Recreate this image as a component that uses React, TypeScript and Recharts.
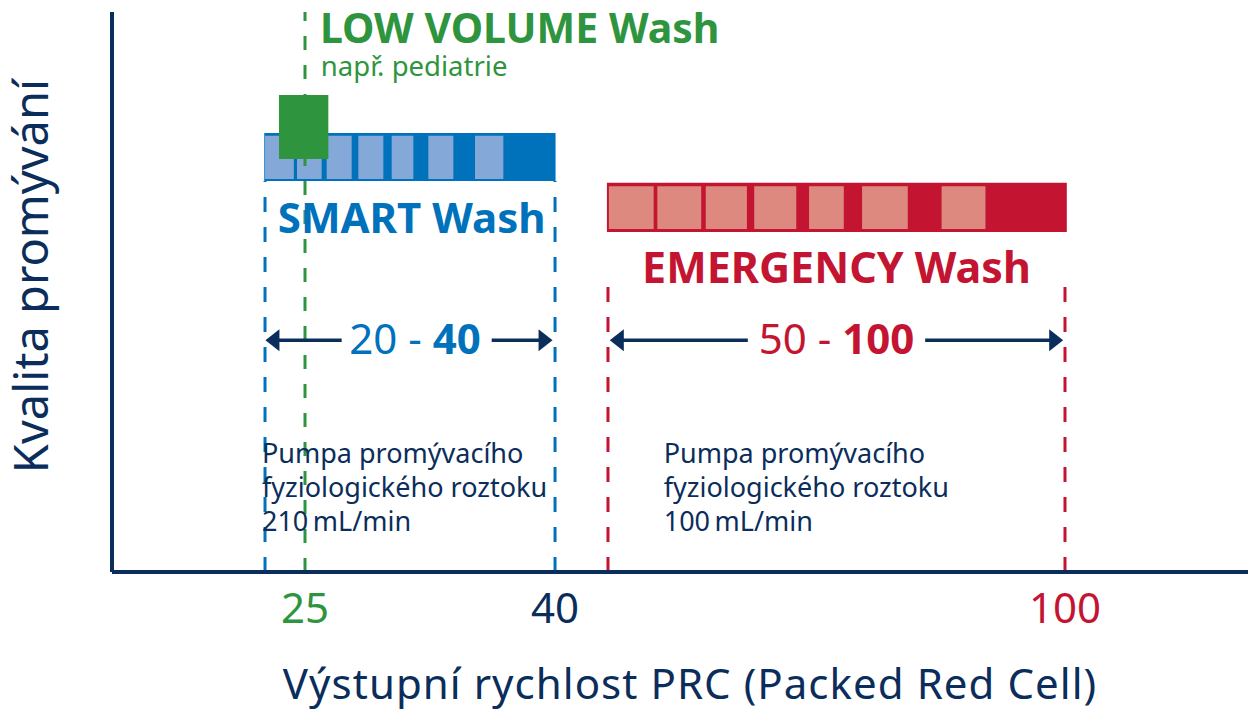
import React from 'react';
import { ComposedChart, XAxis, YAxis, ReferenceArea, ReferenceLine, ReferenceDot } from 'recharts';

// ---------- data ----------
// x axis: output rate of PRC (schematic, non-linear axis)
const xTicks = [25, 40, 100];
const axisBreaks = [0, 20, 25, 40, 50, 100, 120];
const axisBreakShare = [0, 0.1347, 0.1699, 0.39, 0.4366, 0.8389, 1];

// y axis: wash quality (schematic 0..100)
const qualityDomain = [0, 100];

// SMART Wash bar (20 - 40)
const smartRange = [19.9, 40.1];
const smartQuality = [69.8, 78.4];
const smartCells = [
  [20.0, 23.6], [24.0, 26.0], [26.3, 27.8], [28.2, 29.7], [30.2, 31.5], [32.4, 33.9], [35.2, 36.9],
];
const smartCellQuality = [70.2, 77.9];
const smartGuides = [20, 40];

// EMERGENCY Wash bar (50 - 100)
const emergencyRange = [49.8, 100.2];
const emergencyQuality = [60.7, 69.5];
const emergencyCells = [
  [50.1, 55.0], [55.4, 60.2], [60.7, 65.2], [66.0, 70.6], [72.0, 75.8], [77.8, 82.8], [86.5, 91.3],
];
const emergencyCellQuality = [61.25, 68.9];
const emergencyGuides = [50, 100];
const emergencyGuideTop = 51.25;

// LOW VOLUME Wash (25)
const lowVolumeRange = [21.75, 26.4];
const lowVolumeQuality = [73.75, 85.2];
const lowVolumeGuide = 25;

// range arrows
const arrowQuality = 41.4;
const smartArrows = [[27.2, 20.05], [36.2, 39.85]];
const emergencyArrows = [[65.3, 50.2], [84.7, 99.8]];

// texts
const lowVolumeTitle = 'LOW VOLUME Wash';
const lowVolumeSub = 'např. pediatrie';
const smartTitle = 'SMART Wash';
const emergencyTitle = 'EMERGENCY Wash';
const smartRangeText = ['20', '40'];
const emergencyRangeText = ['50', '100'];
const smartPumpText = ['Pumpa promývacího', 'fyziologického roztoku', '210\u2009mL/min'];
const emergencyPumpText = ['Pumpa promývacího', 'fyziologického roztoku', '100\u2009mL/min'];
const xTitle = 'Výstupní rychlost PRC (Packed Red Cell)';
const yTitle = 'Kvalita promývání';

// annotation anchors (data units)
const lowVolumeTitleAt = { x: 25.9, y: 94.4 };
const lowVolumeSubAt = { x: 25.95, y: 88.5 };
const smartTitleAt = { x: 31.4, y: 60.5 };
const emergencyTitleAt = { x: 75.0, y: 51.6 };
const smartRangeAt = { x: 31.6, y: 38.9 };
const emergencyRangeAt = { x: 75.0, y: 38.9 };
const smartPumpAt = { x: 19.6, y: 19.5 };
const emergencyPumpAt = { x: 56.1, y: 19.5 };

// ---------- styles ----------
const FONT = '"Noto Sans", Roboto, sans-serif';
const NAVY = '#0B2D5B';
const GREEN = '#2F943E';
const BLUE = '#0071BB';
const BLUE_LIGHT = '#84A8D7';
const RED = '#C31432';
const RED_LIGHT = '#DD897F';
const tickColor: Record<number, string> = { 25: GREEN, 40: NAVY, 100: RED };

// piecewise-linear scale (d3-like interface) for the schematic x axis
function makeScale(breaks: number[], shares: number[]): any {
  let dom = [breaks[0], breaks[breaks.length - 1]];
  let rng = [0, 1];
  const share = (v: number) => {
    let i = 0;
    while (i < breaks.length - 2 && v > breaks[i + 1]) i++;
    const t = (v - breaks[i]) / (breaks[i + 1] - breaks[i]);
    return shares[i] + t * (shares[i + 1] - shares[i]);
  };
  const unshare = (s: number) => {
    let i = 0;
    while (i < shares.length - 2 && s > shares[i + 1]) i++;
    const t = (s - shares[i]) / (shares[i + 1] - shares[i]);
    return breaks[i] + t * (breaks[i + 1] - breaks[i]);
  };
  const scale: any = (v: any) => {
    const n = Number(v);
    if (!Number.isFinite(n)) return undefined;
    return rng[0] + share(n) * (rng[1] - rng[0]);
  };
  scale.domain = (d?: any) => {
    if (d === undefined) return dom.slice();
    dom = Array.from(d as number[]).map(Number);
    return scale;
  };
  scale.range = (r?: any) => {
    if (r === undefined) return rng.slice();
    rng = Array.from(r as number[]).map(Number);
    return scale;
  };
  scale.rangeRound = (r: any) => scale.range(r);
  scale.copy = () => makeScale(breaks, shares).domain(dom).range(rng);
  scale.ticks = () => breaks.filter((b) => b >= dom[0] && b <= dom[1]);
  scale.tickFormat = () => (d: any) => String(d);
  scale.nice = () => scale;
  scale.clamp = (c?: any) => (c === undefined ? false : scale);
  scale.invert = (px: number) => unshare((px - rng[0]) / (rng[1] - rng[0]));
  return scale;
}

const xScale = makeScale(axisBreaks, axisBreakShare);

const arrowShape = (color: string) => (p: any) => {
  const { x1, y1, x2, y2 } = p;
  const dx = x2 - x1;
  const dy = y2 - y1;
  const len = Math.hypot(dx, dy) || 1;
  const ux = dx / len;
  const uy = dy / len;
  const hl = 14;
  const hw = 11;
  const bx = x2 - ux * hl;
  const by = y2 - uy * hl;
  return (
    <g>
      <line x1={x1} y1={y1} x2={bx + ux * 2} y2={by + uy * 2} stroke={color} strokeWidth={3.5} />
      <polygon
        points={`${x2},${y2} ${bx - uy * hw},${by + ux * hw} ${bx + uy * hw},${by - ux * hw}`}
        fill={color}
      />
    </g>
  );
};

const textShape =
  (lines: string[], color: string, size: number, weight: number, anchor: string, lineHeight = 0) =>
  (p: any) => (
    <text
      x={p.cx}
      y={p.cy}
      fill={color}
      fontSize={size}
      fontWeight={weight}
      fontFamily={FONT}
      textAnchor={anchor}
    >
      {lines.map((l, i) => (
        <tspan key={i} x={p.cx} dy={i === 0 ? 0 : lineHeight}>
          {l}
        </tspan>
      ))}
    </text>
  );

const rangeShape = (parts: string[], color: string) => (p: any) => (
  <text x={p.cx} y={p.cy} fill={color} fontSize={42} fontFamily={FONT} textAnchor="middle">
    <tspan fontWeight={400}>{parts[0]}</tspan>
    <tspan fontWeight={400}>{' - '}</tspan>
    <tspan fontWeight={700}>{parts[1]}</tspan>
  </text>
);

const XTick = (props: any) => {
  const { x, y, payload } = props;
  return (
    <text
      x={x}
      y={y + 51}
      textAnchor="middle"
      fill={tickColor[payload.value] || NAVY}
      fontSize={42}
      fontFamily={FONT}
      fontWeight={400}
    >
      {payload.value}
    </text>
  );
};

const XTitle = (props: any) => {
  const vb = props.viewBox || { x: 112, y: 572, width: 1136, height: 139 };
  return (
    <text
      x={vb.x + vb.width / 2 + 10}
      y={vb.y + 127}
      textAnchor="middle"
      fill={NAVY}
      fontSize={42}
      letterSpacing={1.05}
      fontFamily={FONT}
    >
      {xTitle}
    </text>
  );
};

const YTitle = (props: any) => {
  const vb = props.viewBox || { x: 111, y: 12, width: 1, height: 560 };
  const cx = 48;
  const cy = vb.y + vb.height / 2 - 16;
  return (
    <text
      x={cx}
      y={cy}
      transform={`rotate(-90 ${cx} ${cy})`}
      textAnchor="middle"
      fill={NAVY}
      fontSize={47}
      fontFamily={FONT}
    >
      {yTitle}
    </text>
  );
};

const chartData = xTicks.map((v) => ({ x: v, q: 0 }));

export default function App() {
  return (
    <div style={{ position: 'absolute', left: 0, top: 0, width: 1248, height: 711, background: '#fff' }}>
      <ComposedChart
        width={1248}
        height={711}
        data={chartData}
        margin={{ top: 12, right: 0, bottom: 0, left: 111 }}
      >
        <XAxis
          dataKey="x"
          type="number"
          domain={[axisBreaks[0], axisBreaks[axisBreaks.length - 1]]}
          scale={xScale}
          ticks={xTicks}
          interval={0}
          allowDataOverflow
          height={139}
          tickLine={false}
          tickSize={0}
          tickMargin={0}
          axisLine={{ stroke: NAVY, strokeWidth: 4 }}
          tick={<XTick />}
          label={{ content: <XTitle /> }}
        />
        <YAxis
          type="number"
          domain={qualityDomain}
          allowDataOverflow
          width={1}
          tick={false}
          tickLine={false}
          axisLine={{ stroke: NAVY, strokeWidth: 4 }}
          label={{ content: <YTitle /> }}
        />

        {/* SMART Wash bar */}
        <ReferenceArea
          x1={smartRange[0]}
          x2={smartRange[1]}
          y1={smartQuality[0]}
          y2={smartQuality[1]}
          fill={BLUE}
          fillOpacity={1}
          stroke="none"
        />
        {smartCells.map((c, i) => (
          <ReferenceArea
            key={`sc${i}`}
            x1={c[0]}
            x2={c[1]}
            y1={smartCellQuality[0]}
            y2={smartCellQuality[1]}
            fill={BLUE_LIGHT}
            fillOpacity={1}
            stroke="none"
          />
        ))}

        {/* EMERGENCY Wash bar */}
        <ReferenceArea
          x1={emergencyRange[0]}
          x2={emergencyRange[1]}
          y1={emergencyQuality[0]}
          y2={emergencyQuality[1]}
          fill={RED}
          fillOpacity={1}
          stroke="none"
        />
        {emergencyCells.map((c, i) => (
          <ReferenceArea
            key={`ec${i}`}
            x1={c[0]}
            x2={c[1]}
            y1={emergencyCellQuality[0]}
            y2={emergencyCellQuality[1]}
            fill={RED_LIGHT}
            fillOpacity={1}
            stroke="none"
          />
        ))}

        {/* LOW VOLUME square */}
        <ReferenceArea
          x1={lowVolumeRange[0]}
          x2={lowVolumeRange[1]}
          y1={lowVolumeQuality[0]}
          y2={lowVolumeQuality[1]}
          fill={GREEN}
          fillOpacity={1}
          stroke="none"
        />

        {/* dashed guides */}
        {smartGuides.map((g, i) => (
          <ReferenceLine
            key={`sg${i}`}
            segment={[{ x: g, y: 0 }, { x: g, y: smartQuality[0] }]}
            stroke={BLUE}
            strokeWidth={3}
            strokeDasharray="15 15"
          />
        ))}
        {emergencyGuides.map((g, i) => (
          <ReferenceLine
            key={`eg${i}`}
            segment={[{ x: g, y: 0 }, { x: g, y: emergencyGuideTop }]}
            stroke={RED}
            strokeWidth={3}
            strokeDasharray="15 15"
          />
        ))}
        <ReferenceLine
          segment={[{ x: lowVolumeGuide, y: 0 }, { x: lowVolumeGuide, y: qualityDomain[1] }]}
          stroke={GREEN}
          strokeWidth={3}
          strokeDasharray="14 15"
        />

        {/* range arrows */}
        {smartArrows.map((a, i) => (
          <ReferenceLine
            key={`sa${i}`}
            segment={[{ x: a[0], y: arrowQuality }, { x: a[1], y: arrowQuality }]}
            shape={arrowShape(NAVY)}
          />
        ))}
        {emergencyArrows.map((a, i) => (
          <ReferenceLine
            key={`ea${i}`}
            segment={[{ x: a[0], y: arrowQuality }, { x: a[1], y: arrowQuality }]}
            shape={arrowShape(NAVY)}
          />
        ))}

        {/* texts */}
        <ReferenceDot
          x={lowVolumeTitleAt.x}
          y={lowVolumeTitleAt.y}
          shape={textShape([lowVolumeTitle], GREEN, 41, 700, 'start')}
        />
        <ReferenceDot
          x={lowVolumeSubAt.x}
          y={lowVolumeSubAt.y}
          shape={textShape([lowVolumeSub], GREEN, 27.5, 400, 'start')}
        />
        <ReferenceDot
          x={smartTitleAt.x}
          y={smartTitleAt.y}
          shape={textShape([smartTitle], BLUE, 42, 700, 'middle')}
        />
        <ReferenceDot
          x={emergencyTitleAt.x}
          y={emergencyTitleAt.y}
          shape={textShape([emergencyTitle], RED, 43, 700, 'middle')}
        />
        <ReferenceDot x={smartRangeAt.x} y={smartRangeAt.y} shape={rangeShape(smartRangeText, BLUE)} />
        <ReferenceDot
          x={emergencyRangeAt.x}
          y={emergencyRangeAt.y}
          shape={rangeShape(emergencyRangeText, RED)}
        />
        <ReferenceDot
          x={smartPumpAt.x}
          y={smartPumpAt.y}
          shape={textShape(smartPumpText, NAVY, 27, 400, 'start', 34)}
        />
        <ReferenceDot
          x={emergencyPumpAt.x}
          y={emergencyPumpAt.y}
          shape={textShape(emergencyPumpText, NAVY, 27, 400, 'start', 34)}
        />
      </ComposedChart>
    </div>
  );
}
